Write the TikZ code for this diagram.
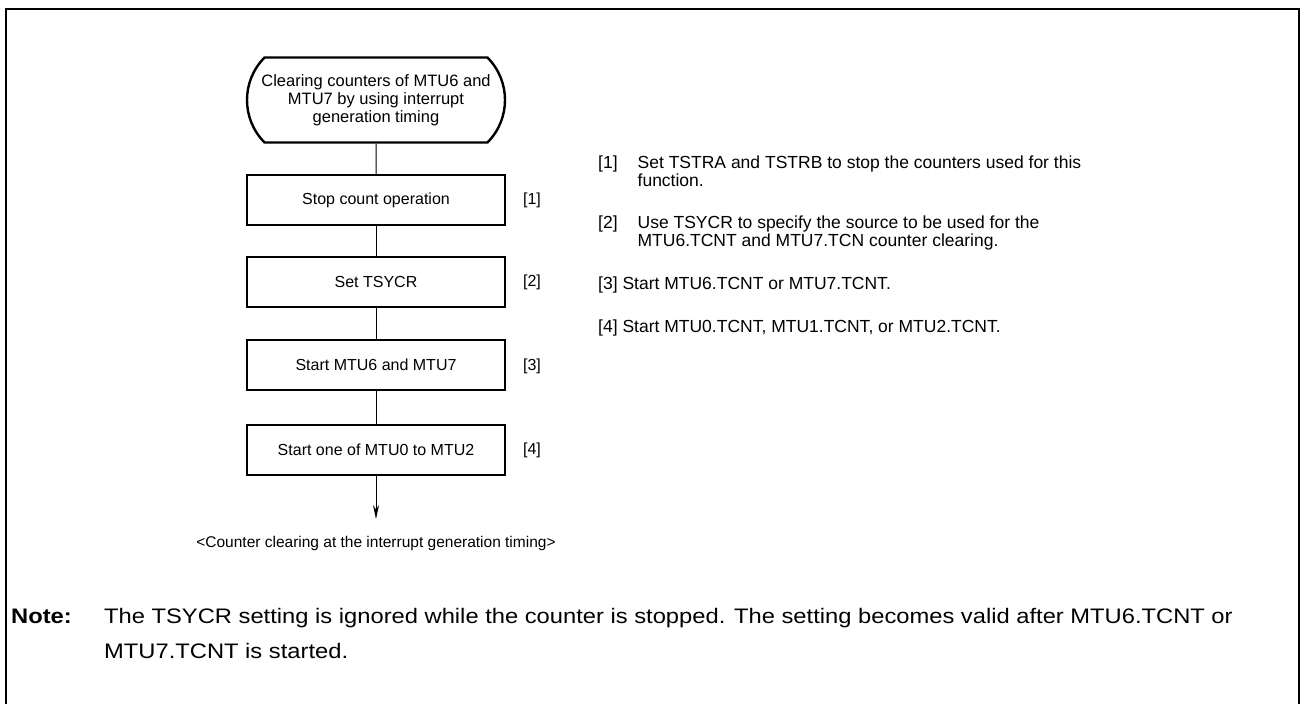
\documentclass[tikz,border=0pt]{standalone}
\usepackage{fontspec}
\setmainfont{Liberation Sans}
\newfontfamily\notefont[FakeStretch=1.13]{Liberation Sans}
\usetikzlibrary{shapes.misc,arrows.meta}

\begin{document}
\begin{tikzpicture}[x=1pt,y=-1pt,
    stepbox/.style={rectangle,draw,line width=2.4pt,minimum width=258pt,minimum height=50pt,inner sep=0pt,font=\fontsize{16}{18}\selectfont},
    termbox/.style={rounded rectangle,rounded rectangle arc length=90,draw,line width=2.4pt,minimum width=258pt,minimum height=85pt,inner sep=0pt,align=center,font=\fontsize{16.5}{18}\selectfont},
    steplabel/.style={font=\fontsize{16}{18}\selectfont},
    remark/.style={anchor=base west,inner sep=0pt,font=\fontsize{17.5}{18}\selectfont},
    flow/.style={line width=1pt}]
\useasboundingbox (0,0) rectangle (1301,704);

% Frame
\draw[line width=2pt] (6,704) -- (6,9) -- (1299,9) -- (1299,704);

% Flowchart
\node[termbox] (start) at (376,100) {Clearing counters of MTU6 and\\MTU7 by using interrupt\\generation timing};
\node[stepbox] (stop) at (376,200) {Stop count operation};
\node[stepbox] (tsycr) at (376,282) {Set TSYCR};
\node[stepbox] (start67) at (376,365) {Start MTU6 and MTU7};
\node[stepbox] (start02) at (376,450) {Start one of MTU0 to MTU2};
\coordinate (end) at (376,519);

% Step numbers
\node[steplabel] (s1) at (532,200) {[1]};
\node[steplabel] (s2) at (532,282) {[2]};
\node[steplabel] (s3) at (532,366) {[3]};
\node[steplabel] (s4) at (532,450) {[4]};

\node[font=\fontsize{15.5}{18}\selectfont] (result) at (376,543) {<Counter clearing at the interrupt generation timing>};

% Connectors
\draw[flow] (start) -- (stop);
\draw[flow] (stop) -- (tsycr);
\draw[flow] (tsycr) -- (start67);
\draw[flow] (start67) -- (start02);
\draw[flow,-{Stealth[length=14pt,width=6pt]}] (start02) -- (end);

% Remarks
\node[remark] (r1) at (598,168) {\begin{tabular}[t]{@{}l@{\hspace{20pt}}l@{}}[1] & Set TSTRA and TSTRB to stop the counters used for this\\ & function.\end{tabular}};
\node[remark] (r2) at (598,228) {\begin{tabular}[t]{@{}l@{\hspace{20pt}}l@{}}[2] & Use TSYCR to specify the source to be used for the\\ & MTU6.TCNT and MTU7.TCN counter clearing.\end{tabular}};
\node[remark] (r3) at (598,289) {[3] Start MTU6.TCNT or MTU7.TCNT.};
\node[remark] (r4) at (598,332) {[4] Start MTU0.TCNT, MTU1.TCNT, or MTU2.TCNT.};

% Note
\node[anchor=base west,inner sep=0pt,font=\notefont\bfseries\fontsize{21}{35}\selectfont] (notelabel) at (11,623) {Note:};
\node[anchor=base west,inner sep=0pt,align=left,font=\notefont\fontsize{21}{35}\selectfont] (note) at (104,623) {\begin{tabular}[t]{@{}l@{}}The TSYCR setting is ignored while the counter is stopped. The setting becomes valid after MTU6.TCNT or\\MTU7.TCNT is started.\end{tabular}};
\end{tikzpicture}
\end{document}
